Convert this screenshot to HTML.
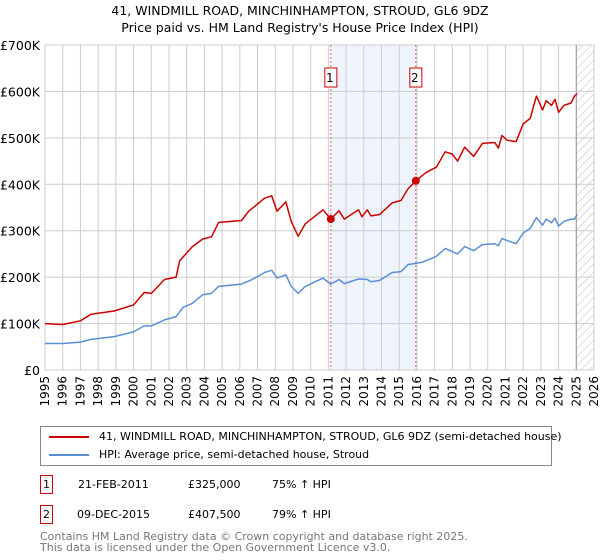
<!DOCTYPE html>
<html><head><meta charset="utf-8"><style>
body{margin:0;background:#fff;font-family:"DejaVu Sans","Liberation Sans",sans-serif;}
#wrap{position:relative;width:600px;height:560px;overflow:hidden}
.t{position:absolute;font-size:12.5px;color:#000}
</style></head><body><div id="wrap">
<div class="t" style="left:0;width:600px;text-align:center;top:2px;line-height:17px">41, WINDMILL ROAD, MINCHINHAMPTON, STROUD, GL6 9DZ<br>Price paid vs. HM Land Registry's House Price Index (HPI)</div>
<svg id="chart" width="600" height="420" style="position:absolute;left:0;top:0" font-family="DejaVu Sans, Liberation Sans, sans-serif"></svg>
<div style="position:absolute;left:40px;top:426px;width:512px;height:40px;border:1px solid #888;box-sizing:border-box;font-size:11px">
 <div style="position:absolute;left:8px;top:3px;white-space:nowrap"><span style="display:inline-block;width:40px;height:2px;background:#cc0000;vertical-align:middle;margin-right:10px"></span>41, WINDMILL ROAD, MINCHINHAMPTON, STROUD, GL6 9DZ (semi-detached house)</div>
 <div style="position:absolute;left:8px;top:21px;white-space:nowrap"><span style="display:inline-block;width:40px;height:2px;background:#5b8fd4;vertical-align:middle;margin-right:10px"></span>HPI: Average price, semi-detached house, Stroud</div>
</div>
<div style="position:absolute;top:475px;left:40px;font-size:11px;width:560px;height:20px">
 <span style="position:absolute;left:0;top:0;border:1px solid #cc0000;width:11px;height:17px;text-align:center;line-height:17px">1</span>
 <span style="position:absolute;left:38px;top:3px">21-FEB-2011</span><span style="position:absolute;left:148px;top:3px">£325,000</span><span style="position:absolute;left:232px;top:3px">75% ↑ HPI</span></div>
<div style="position:absolute;top:505px;left:40px;font-size:11px;width:560px;height:20px">
 <span style="position:absolute;left:0;top:0;border:1px solid #cc0000;width:11px;height:17px;text-align:center;line-height:17px">2</span>
 <span style="position:absolute;left:37px;top:3px">09-DEC-2015</span><span style="position:absolute;left:148px;top:3px">£407,500</span><span style="position:absolute;left:232px;top:3px">79% ↑ HPI</span></div>
<div style="position:absolute;left:40px;top:531px;font-size:11px;color:#777;line-height:11px">Contains HM Land Registry data © Crown copyright and database right 2025.<br>This data is licensed under the Open Government Licence v3.0.</div>
</div>
<script>
const redYears=[1995,1996,1997,1997.6,1998.9,2000,2000.6,2001,2001.75,2002.4,2002.6,2003.3,2003.9,2004.4,2004.8,2006.1,2006.5,2007.4,2007.8,2008.1,2008.6,2008.9,2009.3,2009.7,2010.7,2011.14,2011.6,2011.9,2012.7,2012.9,2013.2,2013.4,2013.9,2014.6,2015.1,2015.5,2015.94,2016.5,2017.1,2017.6,2018,2018.3,2018.7,2019.2,2019.7,2020.4,2020.6,2020.8,2021.1,2021.6,2022,2022.4,2022.75,2023.1,2023.3,2023.6,2023.8,2024,2024.3,2024.7,2024.9,2025.05];
const redVals=[100,98,106,120,127,140,167,165,195,200,235,265,282,287,318,322,342,370,375,342,362,320,288,315,345,325,343,325,345,330,345,332,335,360,365,390,407.5,425,437,470,465,450,480,460,488,490,478,505,495,492,530,542,590,560,580,570,583,555,570,575,590,595];
const hpiYears=[1995,1996,1997,1997.6,1998.9,2000,2000.6,2001,2001.75,2002.4,2002.8,2003.3,2003.9,2004.4,2004.8,2006.1,2006.7,2007.4,2007.8,2008.1,2008.6,2008.9,2009.3,2009.7,2010.7,2011.14,2011.6,2011.9,2012.7,2013.2,2013.4,2013.9,2014.6,2015.1,2015.5,2016.3,2017.1,2017.6,2018.3,2018.7,2019.2,2019.7,2020.4,2020.6,2020.8,2021.6,2022,2022.4,2022.75,2023.1,2023.3,2023.6,2023.8,2024,2024.3,2024.7,2024.9,2025.05];
const hpiVals=[57,57,60,66,72,82,95,95,108,115,135,143,162,165,180,185,195,210,215,198,205,180,165,180,198,185,195,186,196,195,190,193,210,212,227,232,245,262,250,266,257,270,272,268,283,272,295,305,328,312,325,317,327,310,320,325,325,335];
const yTicks=[0,100,200,300,400,500,600,700];
const xTicks=[1995,1996,1997,1998,1999,2000,2001,2002,2003,2004,2005,2006,2007,2008,2009,2010,2011,2012,2013,2014,2015,2016,2017,2018,2019,2020,2021,2022,2023,2024,2025,2026];
const saleYears=[2011.14,2015.94];
const saleVals=[325,407.5];
const saleLabels=["1","2"];
const X0=45,X1=594,Y0=370,Y1=45;
const sx=y=>X0+(y-1995)/31*(X1-X0);
const sy=v=>Y0-v/700*(Y0-Y1);
const svg=document.getElementById('chart');const NS='http://www.w3.org/2000/svg';
function mk(t,a){const e=document.createElementNS(NS,t);for(const k in a)e.setAttribute(k,a[k]);svg.appendChild(e);return e;}
let e;
e=mk('rect',{x:sx(saleYears[0]),y:Y1,width:sx(saleYears[1])-sx(saleYears[0]),height:Y0-Y1,fill:'#eef3fc'});


const defs=mk('defs',{});defs.innerHTML='<pattern id="h" width="6" height="6" patternUnits="userSpaceOnUse" patternTransform="rotate(45)"><line x1="0" y1="0" x2="0" y2="6" stroke="#bbb" stroke-width="1"/></pattern>';
e=mk('rect',{x:sx(2025),y:Y1,width:X1-sx(2025),height:Y0-Y1,fill:'url(#h)'});


xTicks.forEach(t=>{
 e=mk('line',{x1:sx(t),x2:sx(t),y1:Y1,y2:Y0,stroke:'#ccc','stroke-width':1});
 
 
 e=mk('text',{x:0,y:0,'font-size':12,'text-anchor':'end',transform:`translate(${sx(t)+4},${Y0+6}) rotate(-90)`});e.textContent=t;
 
 
});
yTicks.forEach(t=>{
 e=mk('line',{x1:X0,x2:X1,y1:sy(t),y2:sy(t),stroke:'#ccc','stroke-width':1});
 
 
 e=mk('text',{x:X0-5,y:sy(t)+5,'font-size':12.5,'text-anchor':'end'});e.textContent=t===0?'£0':'£'+t+'K';
 
 
});
e=mk('line',{x1:sx(2025),x2:sx(2025),y1:Y1,y2:Y0,stroke:'#999','stroke-width':1});


saleYears.forEach((y,i)=>{
 e=mk('line',{x1:sx(y),x2:sx(y),y1:Y1,y2:Y0,stroke:'#e06060','stroke-width':1,'stroke-dasharray':'2,2'});
 
 
});
function path(xs,vs,c,name){const d=xs.map((x,i)=>(i?'L':'M')+sx(x).toFixed(1)+','+sy(vs[i]).toFixed(1)).join('');
 const p=mk('path',{d:d,fill:'none',stroke:c,'stroke-width':1.5,'stroke-linejoin':'round'});
 
 }
path(hpiYears,hpiVals,'#5b8fd4','hpi-line');
path(redYears,redVals,'#cc0000','price-paid-line');
saleYears.forEach((y,i)=>{
 e=mk('circle',{cx:sx(y),cy:sy(saleVals[i]),r:4,fill:'#cc0000'});
 
 
 e=mk('rect',{x:sx(y)-6,y:68,width:12,height:19,fill:'#fff',stroke:'#cc0000','stroke-width':1});
 
 
 e=mk('text',{x:sx(y)-1,y:82,'font-size':12,'text-anchor':'middle'});e.textContent=saleLabels[i];
 
 
});
</script></body></html>
